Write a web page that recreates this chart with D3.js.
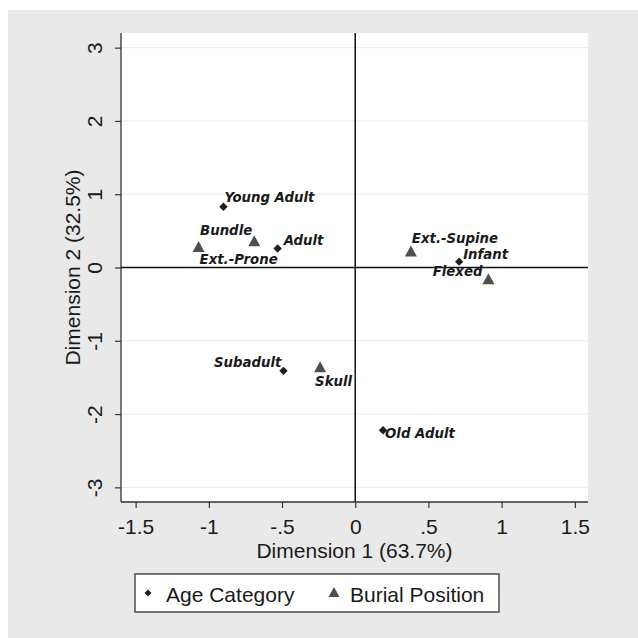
<!DOCTYPE html>
<meta charset="utf-8" />
<title>Correspondence analysis biplot</title>
<style>
  body { margin: 0; background: #fff; }
  svg { display: block; }
  .tick-label, .axis-title, .legend-text {
    font-family: "Liberation Sans", Arial, sans-serif;
    fill: #1a1a1a;
  }
  .pt-label {
    font-family: "DejaVu Sans", Verdana, sans-serif;
    font-size: 13.3px;
    font-weight: bold;
    font-style: italic;
    fill: #1a1a1a;
  }
</style>
<svg width="638" height="638"></svg>
<script src="https://d3js.org/d3.v7.min.js"></script>
<script>
// age category coordinates
const ageCats = ["Young Adult", "Adult", "Infant", "Subadult", "Old Adult"];
const ageDim1 = [-0.90, -0.53, 0.71, -0.49, 0.19];
const ageDim2 = [0.83, 0.26, 0.08, -1.41, -2.22];

// burial position coordinates
const burialCats = ["Bundle", "Ext.-Prone", "Ext.-Supine", "Flexed", "Skull"];
const burialDim1 = [-0.69, -1.07, 0.38, 0.91, -0.24];
const burialDim2 = [0.35, 0.27, 0.21, -0.17, -1.37];

const xTicks = [-1.5, -1, -0.5, 0, 0.5, 1, 1.5];
const xTickLabels = ["-1.5", "-1", "-.5", "0", ".5", "1", "1.5"];
const yTicks = [-3, -2, -1, 0, 1, 2, 3];
const yTickLabels = ["-3", "-2", "-1", "0", "1", "2", "3"];
const legendLabels = ["Age Category", "Burial Position"];

// marker label placement (like mlabposition), kept apart from the data
const ageLabelPos = [
  { dx: 1, dy: -4.5, anchor: "start" },
  { dx: 6, dy: -3.5, anchor: "start" },
  { dx: 4, dy: -3, anchor: "start" },
  { dx: -2, dy: -3.5, anchor: "end" },
  { dx: 2, dy: 7.5, anchor: "start" }
];
const burialLabelPos = [
  { dx: -2, dy: -6.5, anchor: "end" },
  { dx: 1, dy: 16.5, anchor: "start" },
  { dx: 1, dy: -9.5, anchor: "start" },
  { dx: -6, dy: -3.5, anchor: "end" },
  { dx: -5, dy: 18.5, anchor: "start" }
];

const svg = d3.select("svg");
const plot = { left: 121, right: 588, top: 33, bottom: 502 };

// graph background
svg.append("rect").attr("x", 8).attr("y", 10).attr("width", 630).attr("height", 628)
  .attr("fill", "#e9e9e9");
svg.append("rect").attr("x", plot.left).attr("y", plot.top)
  .attr("width", plot.right - plot.left).attr("height", plot.bottom - plot.top)
  .attr("fill", "#fff");

const x = d3.scaleLinear().domain([-1.6, 1.59]).range([plot.left, plot.right]);
const y = d3.scaleLinear().domain([-3.2, 3.2]).range([plot.bottom, plot.top]);

// gridlines
svg.append("g").selectAll("line")
  .data(yTicks.filter(d => d !== 0))
  .enter().append("line")
  .attr("x1", plot.left).attr("x2", plot.right)
  .attr("y1", d => y(d)).attr("y2", d => y(d))
  .attr("stroke", "#ebebeb").attr("stroke-width", 1);

// reference lines at zero
svg.append("line")
  .attr("x1", plot.left).attr("x2", plot.right)
  .attr("y1", y(0)).attr("y2", y(0))
  .attr("stroke", "#111").attr("stroke-width", 1.5);
svg.append("line")
  .attr("x1", x(0)).attr("x2", x(0))
  .attr("y1", plot.top).attr("y2", plot.bottom)
  .attr("stroke", "#111").attr("stroke-width", 1.5);

// axes
const xAxis = d3.axisBottom(x).tickValues(xTicks).tickSize(6)
  .tickFormat((d, i) => xTickLabels[i]);
const gx = svg.append("g").attr("transform", `translate(0,${plot.bottom})`).call(xAxis);
gx.select(".domain").attr("stroke", "#333").attr("stroke-width", 1.3)
  .attr("d", `M${plot.left},0H${plot.right}`);
gx.selectAll(".tick line").attr("stroke", "#333").attr("stroke-width", 1.2);
gx.selectAll(".tick text").attr("class", "tick-label").attr("y", 31.5).attr("dy", null)
  .style("font-size", "21px").attr("fill", "#1a1a1a");

const yAxis = d3.axisLeft(y).tickValues(yTicks).tickSize(6)
  .tickFormat((d, i) => yTickLabels[i]);
const gy = svg.append("g").attr("transform", `translate(${plot.left},0)`).call(yAxis);
gy.select(".domain").attr("stroke", "#333").attr("stroke-width", 1.3)
  .attr("d", `M0,${plot.top}V${plot.bottom}`);
gy.selectAll(".tick line").attr("stroke", "#333").attr("stroke-width", 1.2);
gy.selectAll(".tick text").attr("class", "tick-label")
  .attr("x", null).attr("dy", null)
  .attr("text-anchor", "middle")
  .attr("transform", "translate(-19,0) rotate(-90)")
  .style("font-size", "21px").attr("fill", "#1a1a1a");

svg.append("text").attr("class", "axis-title")
  .attr("x", (plot.left + plot.right) / 2).attr("y", 557.5)
  .attr("text-anchor", "middle").style("font-size", "21px")
  .text("Dimension 1 (63.7%)");
svg.append("text").attr("class", "axis-title")
  .attr("transform", `translate(80,${(plot.top + plot.bottom) / 2}) rotate(-90)`)
  .attr("text-anchor", "middle").style("font-size", "21px")
  .text("Dimension 2 (32.5%)");

// marker shapes
const diamond = r => `M0,${-r}L${r},0L0,${r}L${-r},0Z`;
const triangle = (w, h) => `M0,${-h * 0.6}L${w / 2},${h * 0.4}L${-w / 2},${h * 0.4}Z`;

const ageData = ageCats.map((c, i) => ({ name: c, d1: ageDim1[i], d2: ageDim2[i], lp: ageLabelPos[i] }));
const burialData = burialCats.map((c, i) => ({ name: c, d1: burialDim1[i], d2: burialDim2[i], lp: burialLabelPos[i] }));

const pts = svg.append("g");
pts.selectAll("path.age")
  .data(ageData).enter().append("path")
  .attr("class", "age")
  .attr("d", diamond(4.2))
  .attr("transform", d => `translate(${x(d.d1)},${y(d.d2)})`)
  .attr("fill", "#1e1e1e");
pts.selectAll("path.burial")
  .data(burialData).enter().append("path")
  .attr("class", "burial")
  .attr("d", triangle(12, 11))
  .attr("transform", d => `translate(${x(d.d1)},${y(d.d2)})`)
  .attr("fill", "#4f4f4f");

pts.selectAll("text.pt-label")
  .data(ageData.concat(burialData)).enter().append("text")
  .attr("class", "pt-label")
  .attr("x", d => x(d.d1) + d.lp.dx)
  .attr("y", d => y(d.d2) + d.lp.dy)
  .attr("text-anchor", d => d.lp.anchor)
  .text(d => d.name);

// legend
const lg = svg.append("g");
lg.append("rect").attr("x", 135).attr("y", 574).attr("width", 364).attr("height", 38)
  .attr("fill", "#fff").attr("stroke", "#333").attr("stroke-width", 1.3);
lg.append("path").attr("d", diamond(3.5)).attr("transform", "translate(148,593)").attr("fill", "#1e1e1e");
lg.append("path").attr("d", triangle(11, 10)).attr("transform", "translate(334,593)").attr("fill", "#4f4f4f");
lg.selectAll("text.legend-text")
  .data(legendLabels).enter().append("text")
  .attr("class", "legend-text")
  .attr("x", (d, i) => i === 0 ? 166 : 350)
  .attr("y", 601.5)
  .style("font-size", "21px")
  .text(d => d);
</script>
